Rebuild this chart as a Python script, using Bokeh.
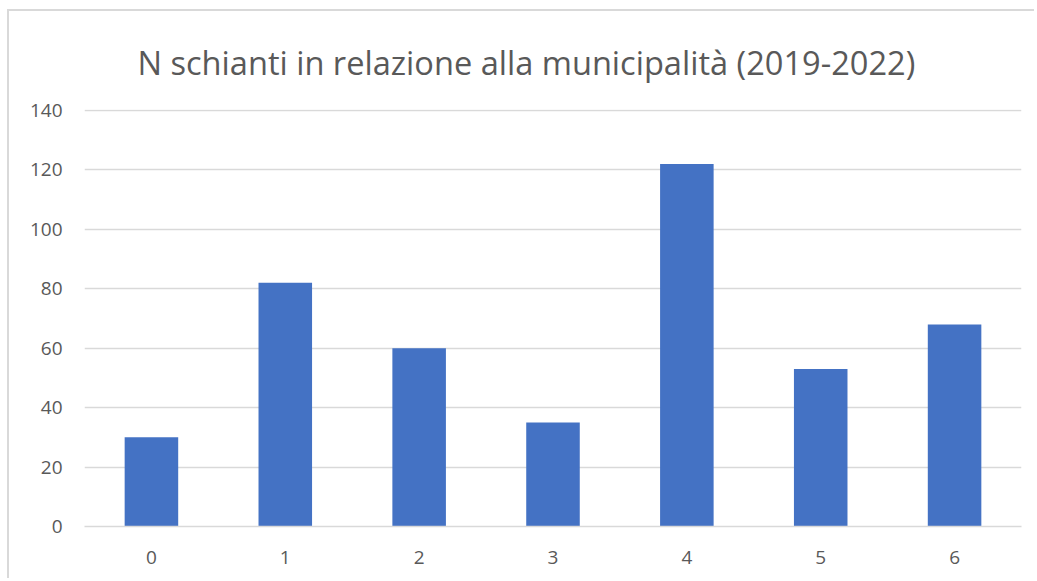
from bokeh.plotting import figure
from bokeh.models import FactorRange, Range1d, FixedTicker
from bokeh.embed import file_html
from bokeh.resources import INLINE

categories = ["0", "1", "2", "3", "4", "5", "6"]
values = [30, 82, 60, 35, 122, 53, 68]
y_ticks = [0, 20, 40, 60, 80, 100, 120, 140]
title_text = "N schianti in relazione alla municipalità (2019-2022)"

FONT = "Open Sans"
TXT = "#595959"
GRID = "#d9d9d9"

p = figure(width=1027, height=569, x_range=FactorRange(*categories, range_padding=0),
           y_range=Range1d(0, 140.3), output_backend="svg", toolbar_location=None,
           min_border_left=75, min_border_right=15, min_border_top=98, min_border_bottom=54,
           title=title_text)
p.styles = {"margin-left": "7px", "margin-top": "9px",
            "border-top": "2px solid #d9d9d9", "border-left": "2px solid #d9d9d9"}
p.outline_line_color = None
p.background_fill_color = "white"
p.border_fill_color = "white"

p.title.align = "left"
p.title.offset = 53
p.title.text_font = FONT
p.title.text_font_size = "32.6px"
p.title.text_color = TXT
p.title.text_font_style = "normal"
p.title.standoff = 50

p.vbar(x=categories, top=values, width=0.4, color="#4472C4", line_color=None)

p.xgrid.grid_line_color = None
p.ygrid.grid_line_color = GRID
p.ygrid.grid_line_width = 1.3
p.yaxis.ticker = FixedTicker(ticks=y_ticks)

p.yaxis.axis_line_color = None
p.yaxis.major_tick_line_color = None
p.yaxis.minor_tick_line_color = None
p.yaxis.major_tick_out = 0
p.yaxis.major_label_standoff = 22
p.xaxis.axis_line_color = GRID
p.xaxis.axis_line_width = 1.3
p.xaxis.major_tick_line_color = None
p.xaxis.minor_tick_line_color = None
p.xaxis.major_tick_out = 0
p.xaxis.major_label_standoff = 24
for ax in (p.xaxis, p.yaxis):
    ax.major_label_text_font = FONT
    ax.major_label_text_font_size = "19px"
    ax.major_label_text_color = TXT

open("out.html", "w").write(file_html(p, INLINE))
